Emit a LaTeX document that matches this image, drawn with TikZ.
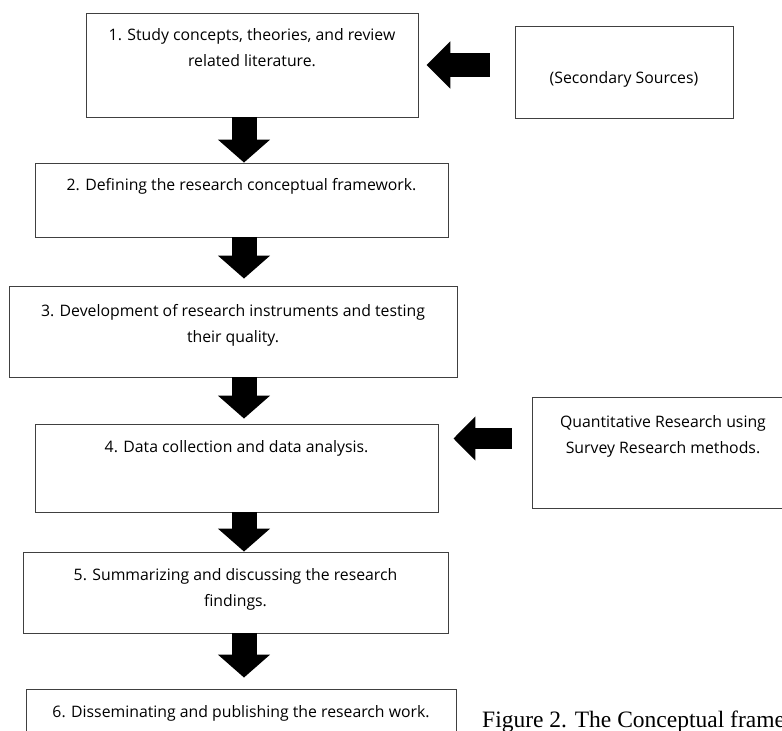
\documentclass[tikz,border=0pt]{standalone}
\usepackage{fontspec}
\newfontfamily\stagefont{Open Sans}
\newfontfamily\capfont{Liberation Serif}
\usetikzlibrary{calc}
\usetikzlibrary{arrows.meta}
\newcommand{\boxtext}[4]{\parbox[c][#1][t]{#2}{\centering\fontsize{15.8}{26.5}\selectfont\rule{0pt}{#3}#4}}
\tikzset{
  stagebox/.style={draw=black!75, line width=0.9pt, inner sep=0pt, fill=white, font=\stagefont},
  downarrow/.style={line width=25pt, -{Triangle[length=23pt, width=51pt]}},
  bigleft/.style={line width=24pt, -{Triangle[length=24pt, width=46pt]}},
  smallleft/.style={line width=21pt, -{Triangle[length=22pt, width=43pt]}}
}

\begin{document}
\begin{tikzpicture}[x=1pt, y=-1pt]
    \useasboundingbox (0,0) rectangle (782,731);
    \clip (0,0) rectangle (782,731);

    \node[stagebox] (s1) at (252,65) {\boxtext{104pt}{332pt}{27pt}{1. Study concepts, theories, and review\\ related literature.}};
    \node[stagebox] (sec) at (624,72) {\boxtext{92pt}{218pt}{57pt}{(Secondary Sources)}};
    \node[stagebox] (s2) at (241.5,200) {\boxtext{74pt}{413pt}{27pt}{2. Defining the research conceptual framework.}};
    \node[stagebox] (s3) at (233,331.5) {\boxtext{91pt}{448pt}{30pt}{3. Development of research instruments and testing\\ their quality.}};
    \node[stagebox] (s4) at (236.5,468) {\boxtext{88pt}{403pt}{28pt}{4. Data collection and data analysis.}};
    \node[stagebox] (quant) at (663,452.5) {\boxtext{111pt}{262pt}{30pt}{Quantitative Research using\\ Survey Research methods.}};
    \node[stagebox] (s5) at (235.5,592.5) {\boxtext{81pt}{425pt}{28pt}{5. Summarizing and discussing the research\\ findings.}};
    \node[stagebox] (s6) at (241,724) {\boxtext{70pt}{430pt}{28pt}{6. Disseminating and publishing the research work.}};

    \coordinate (axis) at (244,0);
    \draw[downarrow] (s1.south -| axis) -- (s2.north -| axis);
    \draw[downarrow] (s2.south -| axis) -- ($(s3.north -| axis)+(0,-7)$);
    \draw[downarrow] (s3.south -| axis) -- ($(s4.north -| axis)+(0,-5)$);
    \draw[downarrow] (s4.south -| axis) -- (s5.north -| axis);
    \draw[downarrow] (s5.south -| axis) -- ($(s6.north -| axis)+(0,-11)$);

    \draw[bigleft] ($(sec.west |- s1.east)+(-25,0)$) -- ($(s1.east)+(8,0)$);
    \draw[smallleft] ($(quant.west)+(-20,-14)$) -- ($(s4.east |- quant.west)+(15,-14)$);

    %caption
    \node[anchor=base west, inner sep=0pt, font=\capfont\fontsize{23.5}{27}\selectfont] (cap) at (482,727) {Figure 2. The Conceptual frame};
\end{tikzpicture}
\end{document}
